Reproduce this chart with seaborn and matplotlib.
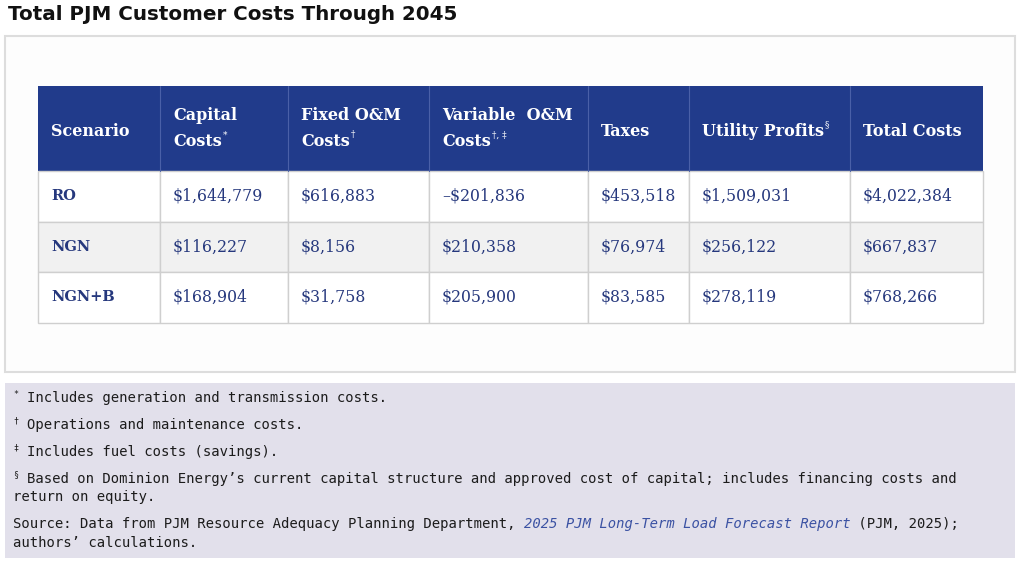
import matplotlib
matplotlib.use("Agg")
import matplotlib.pyplot as plt
from matplotlib.patches import Rectangle
import seaborn as sns

sns.set_theme(style="white")
plt.rcParams['font.family'] = ['DejaVu Serif', 'DejaVu Sans']

# table data
scenarios = ["RO", "NGN", "NGN+B"]
capital = [1644779, 116227, 168904]
fixed_om = [616883, 8156, 31758]
variable_om = [-201836, 210358, 205900]
taxes = [453518, 76974, 83585]
profits = [1509031, 256122, 278119]
totals = [4022384, 667837, 768266]

headers = [["Scenario"], ["Capital", "Costs"], ["Fixed O&M", "Costs"],
           ["Variable  O&M", "Costs"], ["Taxes"], ["Utility Profits"], ["Total Costs"]]
header_marks = ["", "*", "†", "†, ‡", "", "§", ""]

notes = [
    ("*", "Includes generation and transmission costs."),
    ("†", "Operations and maintenance costs."),
    ("‡", "Includes fuel costs (savings)."),
    ("§", "Based on Dominion Energy’s current capital structure and approved cost of capital; includes financing costs and\nreturn on equity."),
]
source_pre = "Source: Data from PJM Resource Adequacy Planning Department, "
source_link = "2025 PJM Long-Term Load Forecast Report"
source_post = " (PJM, 2025);"
source_end = "authors’ calculations."

title = "Total PJM Customer Costs Through 2045"

# layout (pixels)
col_edges = [38, 160, 288, 429, 588, 689, 850, 983]
head_top, head_bot = 86, 171
row_h = 50.5
navy = "#213b8b"
text_navy = "#26387d"
grid_c = "#cfcfcf"


def money(v):
    return ("–$" if v < 0 else "$") + f"{abs(v):,}"


fig = plt.figure(figsize=(10.24, 5.68), dpi=100)
ax = fig.add_axes([0, 0, 1, 1])
ax.set_xlim(0, 1024)
ax.set_ylim(568, 0)
ax.axis("off")
renderer = fig.canvas.get_renderer()


def right_edge(t):
    bb = t.get_window_extent(renderer)
    return ax.transData.inverted().transform((bb.x1, bb.y1))[0]


ax.text(8, 15, title, fontsize=14.3, fontweight="bold", family=["DejaVu Sans"],
        color="#111111", va="center", ha="left")

# outer white card
ax.add_patch(Rectangle((5, 36), 1010, 336, fc="#fdfdfd", ec="#dddddd", lw=1.5))

# header
ax.add_patch(Rectangle((col_edges[0], head_top), col_edges[-1] - col_edges[0],
                       head_bot - head_top, fc=navy, ec="none"))
for i, (lines, mark) in enumerate(zip(headers, header_marks)):
    x = col_edges[i] + 13
    ys = [131] if len(lines) == 1 else [116, 141]
    for ln, y in zip(lines, ys):
        t = ax.text(x, y, ln, fontsize=11.5, fontweight="bold", color="white",
                    va="center", ha="left")
    if mark:
        ax.text(right_edge(t) + 1, ys[-1] - 6, mark, fontsize=6.5, color="white",
                va="center", ha="left")

# body rows
cols = [scenarios, capital, fixed_om, variable_om, taxes, profits, totals]
for r in range(len(scenarios)):
    y0 = head_bot + r * row_h
    fc = "#f1f1f1" if r % 2 == 1 else "white"
    for c in range(len(cols)):
        ax.add_patch(Rectangle((col_edges[c], y0), col_edges[c + 1] - col_edges[c], row_h,
                               fc=fc, ec=grid_c, lw=1))
        val = cols[c][r]
        if c == 0:
            ax.text(col_edges[c] + 13, y0 + row_h / 2, val, fontsize=10.5, fontweight="bold",
                    color=text_navy, va="center", ha="left")
        else:
            ax.text(col_edges[c] + 13, y0 + row_h / 2, money(val), fontsize=11.3,
                    color=text_navy, va="center", ha="left")
for c in range(1, len(col_edges) - 1):
    ax.plot([col_edges[c]] * 2, [head_top, head_bot], color="#4a60a8", lw=0.8)

# footnote box
ax.add_patch(Rectangle((5, 383), 1010, 175, fc="#e2e0eb", ec="none"))
mono = ["DejaVu Sans Mono"]
fn_color = "#1c1c1c"
note_y = [398, 425, 452, 479]
for (sym, txt), y in zip(notes, note_y):
    ax.text(13, y - 4, sym, fontsize=6, family=mono, color=fn_color, va="center")
    for k, p in enumerate(txt.split("\n")):
        ax.text(27 if k == 0 else 13, y + k * 18, p, fontsize=10, family=mono,
                color=fn_color, va="center", ha="left")

sy = 524
t = ax.text(13, sy, source_pre, fontsize=10, family=mono, color=fn_color, va="center")
t = ax.text(right_edge(t), sy, source_link, fontsize=10, family=mono, style="italic",
            color="#3b52a3", va="center")
ax.text(right_edge(t), sy, source_post, fontsize=10, family=mono, color=fn_color, va="center")
ax.text(13, sy + 19, source_end, fontsize=10, family=mono, color=fn_color, va="center")

fig.savefig("out.png", dpi=100, facecolor="white")
